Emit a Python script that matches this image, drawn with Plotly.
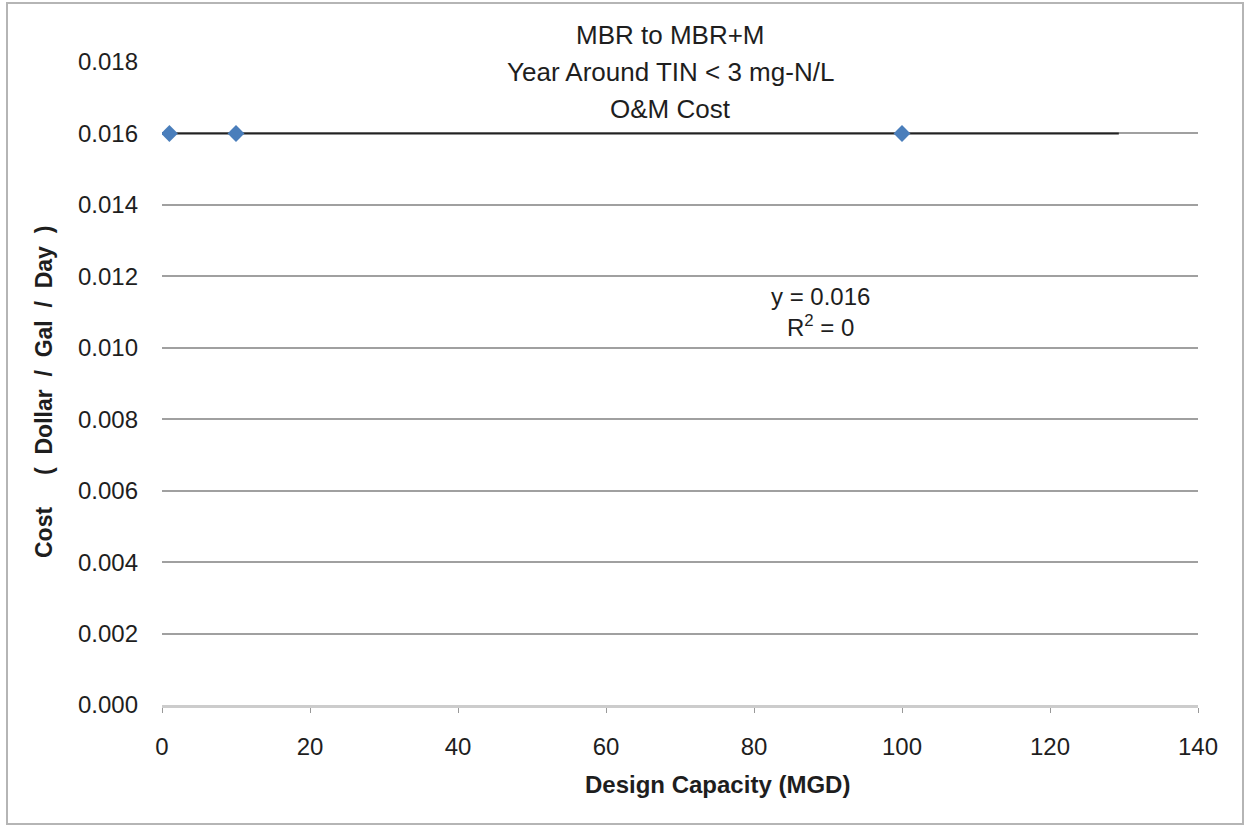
import plotly.graph_objects as go

# Data
capacity_mgd = [1, 10, 100]
cost_per_gal_day = [0.016, 0.016, 0.016]
trend_x = [0, 129.3]
trend_y = [0.016, 0.016]
x_ticks = [0, 20, 40, 60, 80, 100, 120, 140]
y_ticks = [0.000, 0.002, 0.004, 0.006, 0.008, 0.010, 0.012, 0.014, 0.016, 0.018]
title_lines = ["MBR to MBR+M", "Year Around TIN < 3 mg-N/L", "O&M Cost"]
eq_text = "y = 0.016<br>R<sup>2</sup> = 0"
x_title = "Design Capacity (MGD)"
NB = "\u00a0"
y_title = "Cost" + NB * 5 + "(" + NB * 2 + "Dollar" + NB * 2 + "/" + NB * 2 + "Gal" + NB * 2 + "/" + NB * 2 + "Day" + NB * 2 + ")"

W, H = 1249, 828
L, R, T, B = 162, 51, 62, 123
pw, ph = W - L - R, H - T - B

def px_x(p):
    return (p - L) / pw

def px_y(p):
    return (H - B - p) / ph

FONT = "Liberation Sans"
TXT = "#1e1e1e"

fig = go.Figure()
fig.add_trace(go.Scatter(x=trend_x, y=trend_y, mode="lines",
                         line=dict(color="#222222", width=2), showlegend=False,
                         hoverinfo="skip"))
fig.add_trace(go.Scatter(x=capacity_mgd, y=cost_per_gal_day, mode="markers",
                         marker=dict(symbol="diamond", size=13, color="#4a7ebb"),
                         showlegend=False))

annotations = []
for txt, ypix in zip(title_lines, [35, 72, 109]):
    annotations.append(dict(text=txt, x=px_x(670), y=px_y(ypix), xref="paper", yref="paper",
                            showarrow=False, xanchor="center", yanchor="middle",
                            font=dict(family=FONT, size=26, color=TXT)))
annotations.append(dict(text=eq_text, x=89, y=0.011, xref="x", yref="y",
                        showarrow=False, xanchor="center", yanchor="middle", align="center",
                        font=dict(family=FONT, size=24, color=TXT)))
annotations.append(dict(text="<b>" + x_title + "</b>", x=px_x(717), y=px_y(785),
                        xref="paper", yref="paper", showarrow=False,
                        xanchor="center", yanchor="middle",
                        font=dict(family=FONT, size=24, color=TXT)))
annotations.append(dict(text="<b>" + y_title + "</b>", x=px_x(44), y=px_y(392),
                        xref="paper", yref="paper", showarrow=False, textangle=-90,
                        xanchor="center", yanchor="middle",
                        font=dict(family=FONT, size=23, color=TXT)))
fig.update_layout(annotations=annotations)

fig.add_shape(type="rect", xref="paper", yref="paper",
              x0=px_x(7), x1=px_x(1243), y0=px_y(824), y1=px_y(3),
              line=dict(color="#b5b5b5", width=2), fillcolor="rgba(0,0,0,0)", layer="below")

fig.update_xaxes(range=[0, 140], tickvals=x_ticks, ticktext=[str(v) for v in x_ticks],
                 showgrid=False, zeroline=False, showline=True, linecolor="#cccccc", linewidth=3,
                 ticks="outside", ticklen=5, tickcolor="#999999", ticklabelstandoff=13,
                 tickfont=dict(family=FONT, size=24, color=TXT))
fig.update_yaxes(range=[0, 0.018], tickvals=y_ticks, ticktext=[f"{v:.3f}" for v in y_ticks],
                 showgrid=True, gridcolor="#a0a0a0", gridwidth=2, zeroline=False, showline=False,
                 ticks="", ticklabelstandoff=23,
                 tickfont=dict(family=FONT, size=24, color=TXT))

fig.update_layout(width=W, height=H, margin=dict(l=L, r=R, t=T, b=B, autoexpand=False),
                  plot_bgcolor="white", paper_bgcolor="white")

fig.write_html("out.html", config={"displayModeBar": False},
               post_script="document.body.style.margin='0px';")
